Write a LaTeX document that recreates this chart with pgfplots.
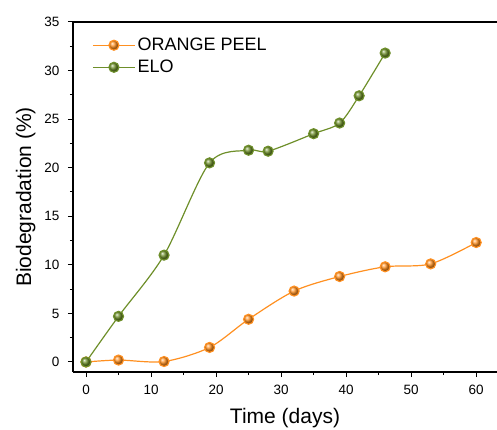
\documentclass[border=0pt]{standalone}
\usepackage{fontspec}
\setmainfont{Liberation Sans}
\usepackage{pgfplots}
\pgfplotsset{compat=1.18}
\definecolor{corange}{HTML}{FF9021}
\definecolor{cgreen}{HTML}{6E8F2A}
\begin{document}
\begin{tikzpicture}
\useasboundingbox (-73pt,-57pt) rectangle (424pt,372pt);
\begin{axis}[
    at={(0,0)}, anchor=south west,
    scale only axis, width=424pt, height=350pt,
    xmin=-2, xmax=63.2, ymin=-1.03, ymax=35,
    axis x line*=bottom, axis y line*=left,
    axis line style={line width=1.2pt, -},
    xtick={0,10,...,60}, minor x tick num=1,
    ytick={0,5,...,35}, minor y tick num=1,
    tick align=outside,
    major tick length=5pt, minor tick length=3pt,
    every tick/.style={black, line width=1pt},
    tick label style={font=\fontsize{13.5}{16}\selectfont},
    xticklabel style={yshift=-5pt},
    yticklabel style={xshift=-5pt},
    /pgf/number format/assume math mode=true,
    xlabel={Time (days)}, ylabel={Biodegradation (\%)},
    label style={font=\fontsize{21}{25}\selectfont},
    xlabel style={yshift=-6pt},
    ylabel style={yshift=2pt},
    legend style={draw=none, fill=none, at={(0.045,0.96)}, anchor=north west,
        font=\fontsize{18}{21}\selectfont, row sep=4pt, inner sep=0pt},
    legend cell align=left,
    legend image code/.code={\draw[mark repeat=2,mark phase=2]
        plot coordinates {(0cm,0cm) (0.74cm,0cm) (1.48cm,0cm)};},
    clip=false,
]
\draw[line width=1.2pt] (rel axis cs:0,1) -- (rel axis cs:1,1);
\addplot[corange, line width=1.2pt, smooth, tension=0.5, mark=ball,
    mark size=5pt, mark options={ball color=corange}] coordinates {
    (0,0) (5,0.2) (12,0.05) (19,1.5) (25,4.4) (32,7.3) (39,8.8)
    (46,9.8) (53,10.1) (60,12.3)
};
\addlegendentry{ORANGE PEEL}
\addplot[cgreen, line width=1.2pt, smooth, tension=0.5, mark=ball,
    mark size=5pt, mark options={ball color=cgreen}] coordinates {
    (0,0) (5,4.7) (12,11.0) (19,20.5) (25,21.8) (28,21.7) (35,23.5)
    (39,24.6) (42,27.4) (46,31.8)
};
\addlegendentry{ELO}
\end{axis}
\end{tikzpicture}
\end{document}
